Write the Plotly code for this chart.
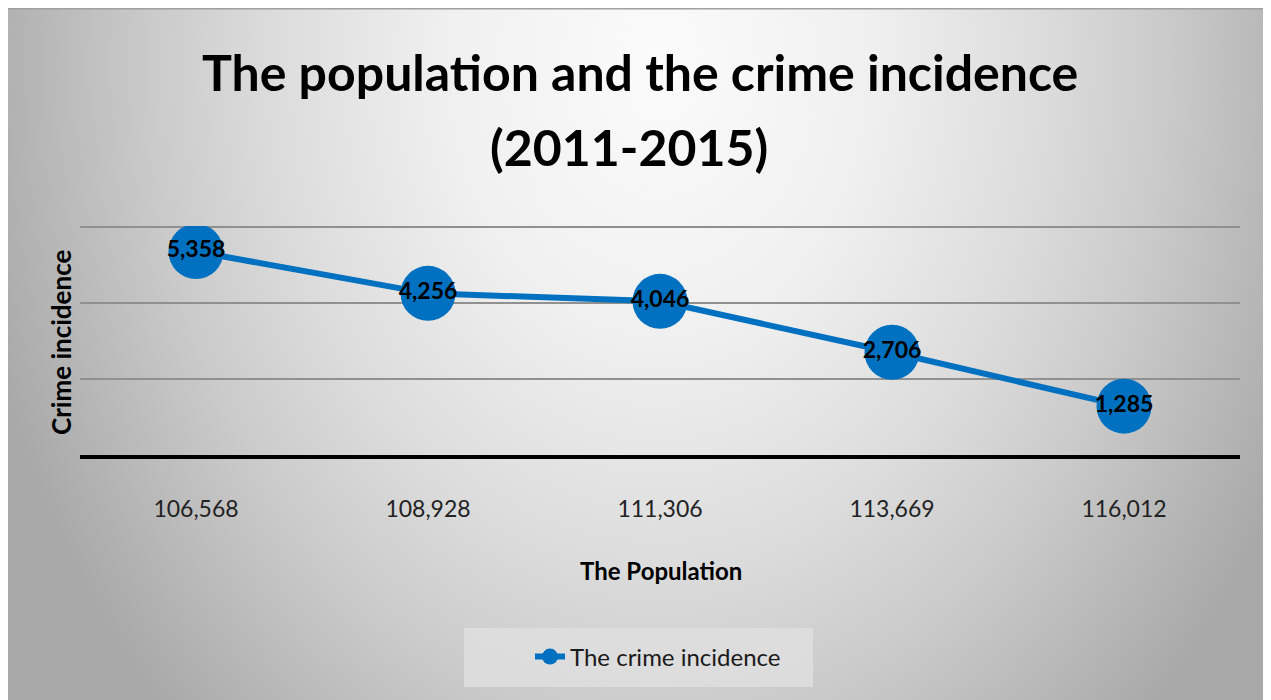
import base64
import plotly.graph_objects as go

population = ["106,568", "108,928", "111,306", "113,669", "116,012"]
crime_incidence = [5358, 4256, 4046, 2706, 1285]
series_name = "The crime incidence"
title_line1 = "The population and the crime incidence"
title_line2 = "(2011-2015)"
x_title = "The Population"
y_title = "Crime incidence"
grid_values = [2000, 4000, 6000]

OFF = 8  # page body margin
W, H = 1271 - OFF, 700 - OFF
# plot area in screen px: x 80..1240, y 226..455
L, R, T, B = 80 - OFF, 1271 - 1240, 226 - OFF, 700 - 455
pw, ph = W - L - R, H - T - B

def px_x(p):  # screen px -> paper
    return (p - OFF - L) / pw

def px_y(p):
    return (H - B - (p - OFF)) / ph

svg = f'''<svg xmlns="http://www.w3.org/2000/svg" width="{W}" height="{H}" viewBox="0 0 {W} {H}" preserveAspectRatio="none">
<defs><radialGradient id="g" gradientUnits="userSpaceOnUse" cx="650" cy="55" r="700"
 gradientTransform="translate(650 55) scale(1 1.3) translate(-650 -55)">
<stop offset="0" stop-color="#fbfbfb"/>
<stop offset="0.3" stop-color="#f0f0f0"/>
<stop offset="0.55" stop-color="#dcdcdc"/>
<stop offset="0.72" stop-color="#cbcbcb"/>
<stop offset="1" stop-color="#a9a9a9"/>
</radialGradient></defs>
<rect x="0" y="0" width="{W}" height="{H}" fill="url(#g)"/>
<line x1="0" y1="0.75" x2="{W}" y2="0.75" stroke="#a0a0a0" stroke-width="1.5"/>
</svg>'''
src = "data:image/svg+xml;base64," + base64.b64encode(svg.encode()).decode()

fig = go.Figure()
fig.add_trace(go.Scatter(
    x=population, y=crime_incidence, name=series_name,
    mode="lines+markers+text",
    line=dict(color="#0070c0", width=6),
    marker=dict(color="#0070c0", size=55),
    text=[f"{v:,}" for v in crime_incidence],
    textposition="middle center",
    textfont=dict(family="Lato", size=23, color="black", weight="bold"),
))

fig.update_layout(
    width=W, height=H,
    margin=dict(l=L, r=R, t=T, b=B, autoexpand=False),
    paper_bgcolor="white", plot_bgcolor="rgba(0,0,0,0)",
    showlegend=True,
    legend=dict(x=px_x(658), xanchor="center", y=px_y(657), yanchor="middle",
                bgcolor="rgba(0,0,0,0)", font=dict(family="Lato", size=24, color="#1a1a1a"),
                orientation="h"),
    images=[dict(source=src, xref="paper", yref="paper", x=px_x(OFF), y=px_y(OFF),
                 sizex=W / pw, sizey=H / ph, xanchor="left", yanchor="top",
                 sizing="stretch", layer="below")],
    shapes=[dict(type="rect", xref="paper", yref="paper", x0=px_x(464), x1=px_x(813),
                 y0=px_y(687), y1=px_y(628), fillcolor="rgba(222,222,222,0.9)",
                 line=dict(width=0), layer="below")],
    annotations=[
        dict(text=title_line1, xref="paper", yref="paper", x=px_x(640), y=px_y(72),
             showarrow=False, xanchor="center", yanchor="middle",
             font=dict(family="Lato", size=50, color="black", weight="bold")),
        dict(text=title_line2, xref="paper", yref="paper", x=px_x(629), y=px_y(147),
             showarrow=False, xanchor="center", yanchor="middle",
             font=dict(family="Lato", size=50, color="black", weight="bold")),
        dict(text=x_title, xref="paper", yref="paper", x=px_x(661), y=px_y(570),
             showarrow=False, xanchor="center", yanchor="middle",
             font=dict(family="Lato", size=24, color="black", weight="bold")),
        dict(text=y_title, xref="paper", yref="paper", x=px_x(61), y=px_y(343),
             showarrow=False, xanchor="center", yanchor="middle", textangle=-90,
             font=dict(family="Lato", size=26, color="black", weight="bold")),
    ],
)
fig.update_xaxes(type="category", range=[-0.5, 4.5], showgrid=False,
                 showline=True, linecolor="black", linewidth=4,
                 ticks="", ticklabelstandoff=30,
                 tickfont=dict(family="Lato", size=23, color="#222222"))
fig.update_yaxes(range=[0, 6030], tickvals=grid_values, showticklabels=False,
                 showgrid=True, gridcolor="#909090", gridwidth=1.5, zeroline=False)

fig.write_html("out.html")
